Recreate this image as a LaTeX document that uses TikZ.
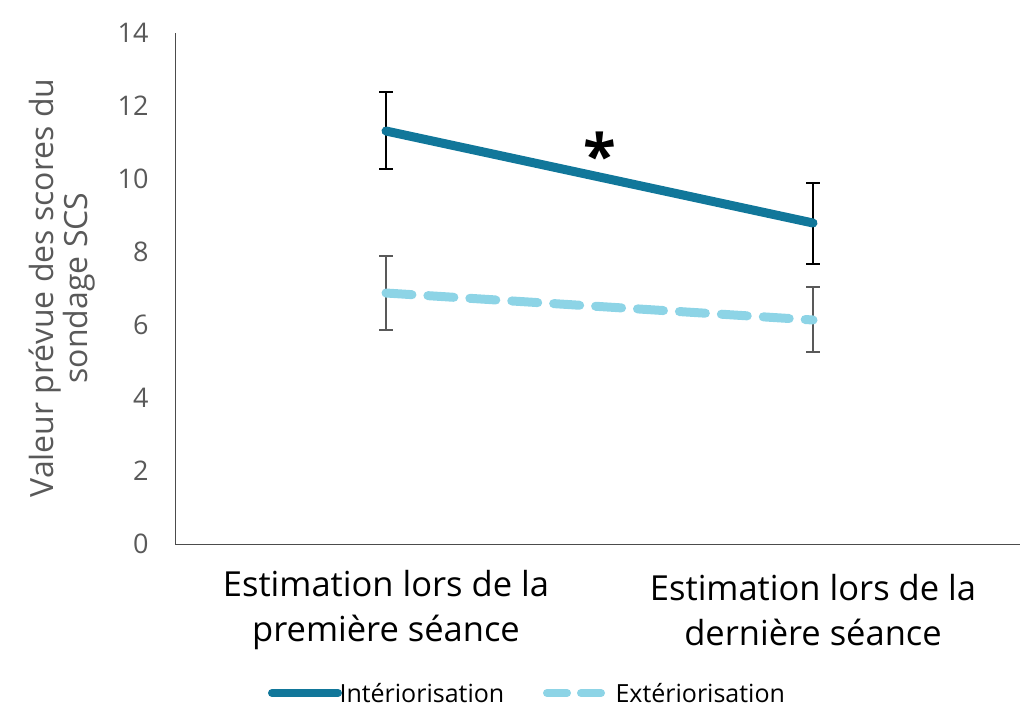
\documentclass[tikz,border=0pt]{standalone}
\usepackage{fontspec}
\setmainfont{Open Sans}
\definecolor{dteal}{HTML}{11779A}
\definecolor{lblue}{HTML}{8DD4E6}
\definecolor{tgray}{HTML}{595959}
\begin{document}
\begin{tikzpicture}[x=1pt,y=-1pt,
  tick/.style={font=\fontsize{27}{30}\selectfont,text=tgray,anchor=east},
  cat/.style={font=\fontsize{34.5}{45}\selectfont,align=center,text=black},
  leg/.style={font=\fontsize{25}{28}\selectfont,text=black,anchor=west},
  ebar/.style={line width=2.8pt}]
\useasboundingbox (0,0) rectangle (1024,721);
\draw[line width=1pt,black!70] (175,33) -- (175,544) -- (1020,544);
\foreach \v in {0,2,...,14}{\node[tick] at (152,{544-36.5*\v}) {\v};}
\node[rotate=90,font=\fontsize{32}{34}\selectfont,text=tgray,align=center] (yt) at (62,288) {Valeur prévue des scores du\\sondage SCS};
% error bars
\draw[ebar,black] (386,92) -- (386,169) (379,92) -- (393,92) (379,169) -- (393,169);
\draw[ebar,black] (813,183) -- (813,264) (806,183) -- (820,183) (806,264) -- (820,264);
\draw[ebar,tgray] (386,256) -- (386,330) (379,256) -- (393,256) (379,330) -- (393,330);
\draw[ebar,tgray] (813,287) -- (813,352) (806,287) -- (820,287) (806,352) -- (820,352);
% series
\coordinate (i1) at (386,131); \coordinate (i2) at (813,223);
\coordinate (e1) at (386,293); \coordinate (e2) at (813,320);
\draw[dteal,line width=9pt,line cap=round] (i1) -- (i2);
\draw[lblue,line width=9pt,dash pattern=on 26pt off 16pt,line cap=round] (e1) -- (e2);
\node[font=\fontsize{60}{60}\selectfont\bfseries] (st) at (600,155) {*};
\node[cat] (c1) at (386,610) {Estimation lors de la\\première séance};
\node[cat] (c2) at (813,610) {Estimation lors de la\\dernière séance};
% legend
\coordinate (l1a) at (272,693); \coordinate (l1b) at (338,693);
\draw[dteal,line width=8pt,line cap=round] (l1a) -- (l1b);
\node[leg] (t1) at (336,693) {Intériorisation};
\coordinate (l2a) at (547,693); \coordinate (l2b) at (613,693);
\draw[lblue,line width=8pt,line cap=round,dash pattern=on 20pt off 14pt] (l2a) -- (l2b);
\node[leg] (t2) at (612,693) {Extériorisation};
\end{tikzpicture}
\end{document}
